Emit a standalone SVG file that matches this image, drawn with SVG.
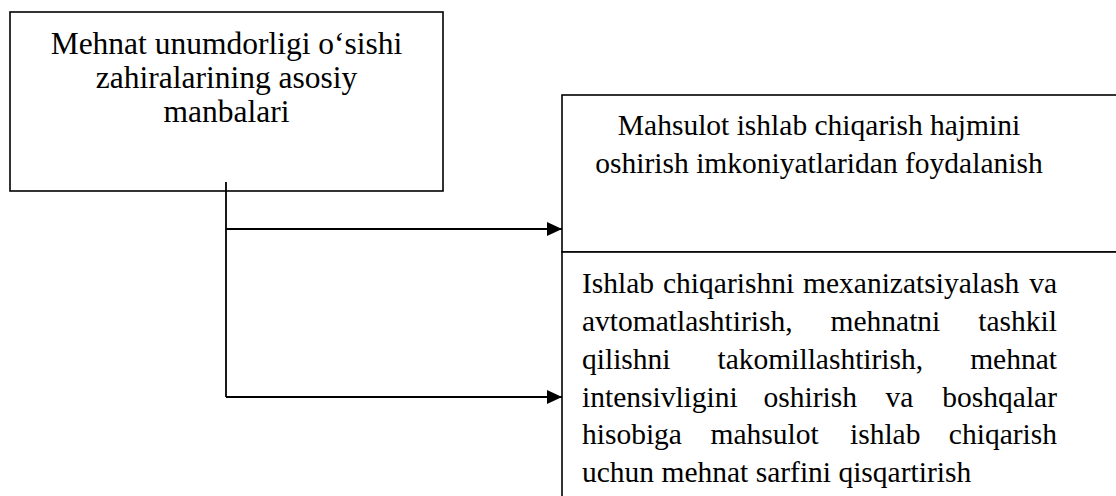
<svg xmlns="http://www.w3.org/2000/svg" width="1116" height="496" viewBox="0 0 1116 496">
<style>
.box{fill:#fff;stroke:#000;stroke-width:1.6}
.t{font-family:"Liberation Serif","Times New Roman",serif;fill:#000}
.l{font-size:31.5px}
.r{font-size:29.5px}
.c{stroke:#000;stroke-width:1.8;fill:none}
</style>
<defs>
<marker id="ah" markerWidth="15" markerHeight="14" refX="15" refY="7" orient="auto" markerUnits="userSpaceOnUse">
<path d="M0,0 L15,7 L0,14 Z" fill="#000"/>
</marker>
</defs>
<rect width="1116" height="496" fill="#fff"/>
<g id="source">
<rect class="box" x="10" y="12" width="433" height="179"/>
<text class="t l" text-anchor="middle" x="226.5" y="54">Mehnat unumdorligi o‘sishi</text>
<text class="t l" text-anchor="middle" x="226.5" y="88">zahiralarining asosiy</text>
<text class="t l" text-anchor="middle" x="226.5" y="122">manbalari</text>
</g>
<g id="target1">
<rect class="box" x="562" y="95" width="580" height="157"/>
<text class="t r" text-anchor="middle" x="819" y="135">Mahsulot ishlab chiqarish hajmini</text>
<text class="t r" text-anchor="middle" x="819" y="173">oshirish imkoniyatlaridan foydalanish</text>
</g>
<g id="target2">
<rect class="box" x="562" y="252" width="580" height="270"/>
<g class="t r">
<text x="582" y="293">Ishlab</text>
<text x="663" y="293">chiqarishni</text>
<text x="803" y="293">mexanizatsiyalash</text>
<text x="1057" y="293" text-anchor="end">va</text>
<text x="582" y="331">avtomatlashtirish,</text>
<text x="830.5" y="331">mehnatni</text>
<text x="1057" y="331" text-anchor="end">tashkil</text>
<text x="582" y="369">qilishni</text>
<text x="717.5" y="369">takomillashtirish,</text>
<text x="1057" y="369" text-anchor="end">mehnat</text>
<text x="582" y="407">intensivligini</text>
<text x="763.5" y="407">oshirish</text>
<text x="885.5" y="407">va</text>
<text x="1057" y="407" text-anchor="end">boshqalar</text>
<text x="582" y="444">hisobiga</text>
<text x="710.5" y="444">mahsulot</text>
<text x="850" y="444">ishlab</text>
<text x="1057" y="444" text-anchor="end">chiqarish</text>
<text x="582" y="482">uchun mehnat sarfini qisqartirish</text>
</g>
</g>
<g id="connectors">
<path class="c" d="M226,182 L226,397"/>
<path class="c" d="M226,229 L562,229" marker-end="url(#ah)"/>
<path class="c" d="M226,397 L562,397" marker-end="url(#ah)"/>
</g>
</svg>
